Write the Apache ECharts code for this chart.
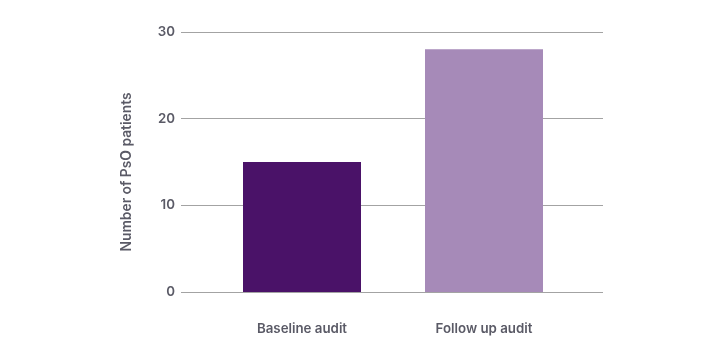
<!DOCTYPE html>
<html><head><meta charset="utf-8">
<script src="https://cdn.jsdelivr.net/npm/echarts@6/dist/echarts.min.js"></script>
<style>html,body{margin:0;padding:0;background:#fff}#c{width:720px;height:360px}</style>
</head><body><div id="c"></div>
<script>
const categories = ['Baseline audit', 'Follow up audit'];
const values = [15, 28];
const barColors = ['#4a1268', '#a68ab8'];
const yTicks = [0, 10, 20, 30];
const yName = 'Number of PsO patients';

const chart = echarts.init(document.getElementById('c'), null, {renderer: 'canvas'});
const font = 'Inter, "Noto Sans", sans-serif';
const txtColor = '#5a5a66';
chart.setOption({
  animation: false,
  grid: [
    {left: 181, right: 117, top: 32, bottom: 68},
    {left: 211, right: 145, top: 32, bottom: 68}
  ],
  xAxis: [
    {gridIndex: 0, type: 'category', data: categories, show: false},
    {gridIndex: 1, type: 'category', data: categories,
     axisLine: {show: false}, axisTick: {show: false},
     axisLabel: {margin: 30, color: txtColor, fontFamily: font, fontWeight: 600, fontSize: 13.3}}
  ],
  yAxis: [
    {gridIndex: 0, type: 'value', min: yTicks[0], max: yTicks[yTicks.length-1], interval: 10,
     axisLine: {show: false}, axisTick: {show: false},
     axisLabel: {margin: 6, color: txtColor, fontFamily: font, fontWeight: 600, fontSize: 13.3},
     splitLine: {lineStyle: {color: '#a3a3a3', width: 1}}},
    {gridIndex: 1, type: 'value', min: yTicks[0], max: yTicks[yTicks.length-1], interval: 10, show: false}
  ],
  graphic: [{
    type: 'text', x: 127, y: 172, rotation: Math.PI / 2,
    style: {text: yName, fill: txtColor, font: '600 13.8px ' + font, textAlign: 'center', textVerticalAlign: 'middle'}
  }],
  series: [{
    type: 'bar', xAxisIndex: 1, yAxisIndex: 1, barWidth: 118,
    data: values.map((v, i) => ({value: v, itemStyle: {color: barColors[i]}}))
  }]
});
</script></body></html>
